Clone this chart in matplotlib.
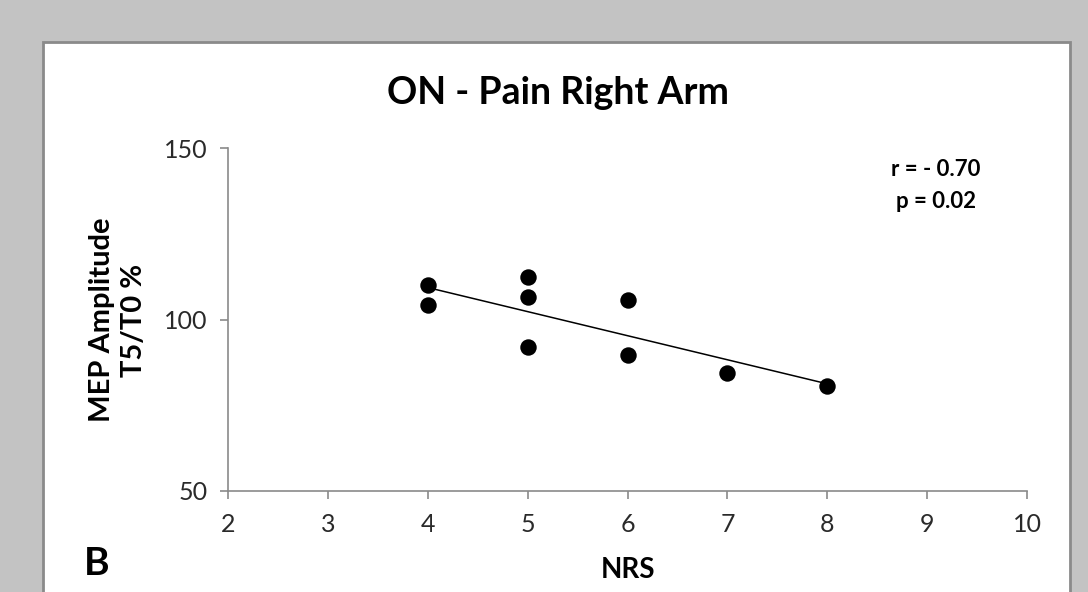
import numpy as np
import matplotlib
matplotlib.use("Agg")
import matplotlib.pyplot as plt
from matplotlib.patches import Rectangle

# Data
nrs = [4, 4, 5, 5, 5, 6, 6, 7, 8]
mep = [110.1, 104.2, 112.3, 106.5, 91.9, 105.7, 89.7, 84.5, 80.7]
xticks = [2, 3, 4, 5, 6, 7, 8, 9, 10]
yticks = [50, 100, 150]
title = "ON - Pain Right Arm"
xlabel = "NRS"
ylabel = "MEP Amplitude\nT5/T0 %"
stats = "r = - 0.70\np = 0.02"
panel_letter = "B"

plt.rcParams['font.family'] = ['Lato', 'DejaVu Sans']

W, H = 1088, 592
fig = plt.figure(figsize=(W/100, H/100), dpi=100)
fig.patch.set_facecolor('#c3c3c3')

def fx(px):
    return px / W

def fy(py):
    return 1 - py / H

# white panel
fig.patches.append(Rectangle((fx(43), -0.05), fx(1070) - fx(43), 1.05 - 42/H,
                             transform=fig.transFigure, facecolor='white',
                             edgecolor='#8a8a8a', linewidth=2, zorder=-5))

ax = fig.add_axes([fx(228), fy(491), fx(1027) - fx(228), (491 - 148)/H])
ax.set_facecolor('none')
ax.set_zorder(2)

ax.scatter(nrs, mep, s=140, color='black', zorder=3, linewidths=0)
slope, intercept = np.polyfit(nrs, mep, 1)
xl = np.array([min(nrs), max(nrs)])
ax.plot(xl, slope*xl + intercept, color='black', linewidth=1.1, zorder=2)

ax.set_xlim(2, 10)
ax.set_ylim(50, 150)
ax.set_xticks(xticks)
ax.set_yticks(yticks)
for s in ['top', 'right']:
    ax.spines[s].set_visible(False)
for s in ['left', 'bottom']:
    ax.spines[s].set_color('#8a8a8a')
    ax.spines[s].set_linewidth(1.2)
ax.tick_params(axis='both', colors='#8a8a8a', length=5.5, width=1.2,
               labelcolor='#2a2a2a', labelsize=18)
ax.tick_params(axis='x', pad=10)
ax.tick_params(axis='y', pad=9)

fig.text(fx(558), fy(104), title, ha='center', va='baseline',
         fontsize=27, fontweight='bold', color='black')
fig.text(fx(628), fy(578), xlabel, ha='center', va='baseline',
         fontsize=20, fontweight='bold', color='black')
fig.text(fx(118), fy(320), ylabel, ha='center', va='center', rotation=90,
         fontsize=21, fontweight='bold', color='black', linespacing=1.3)
fig.text(fx(936), fy(176.5), stats.split("\n")[0], ha='center', va='baseline',
         fontsize=16, fontweight='bold', color='black')
fig.text(fx(936), fy(208), stats.split("\n")[1], ha='center', va='baseline',
         fontsize=16, fontweight='bold', color='black')
fig.text(fx(97), fy(575), panel_letter, ha='center', va='baseline',
         fontsize=28, fontweight='bold', color='black')

fig.savefig('out.png', dpi=100, facecolor=fig.get_facecolor())
